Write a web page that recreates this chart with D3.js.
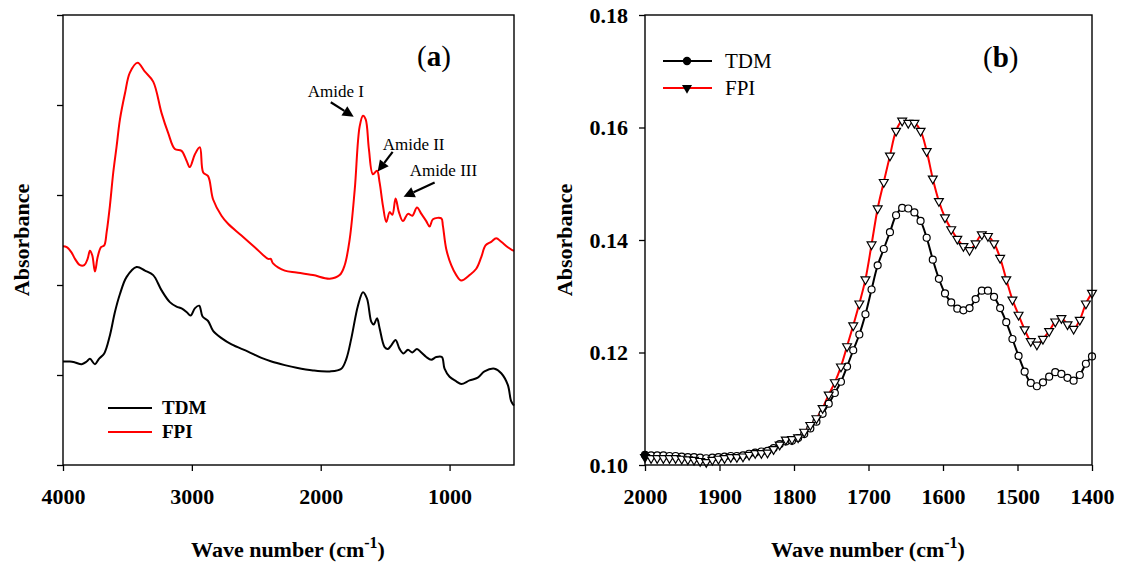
<!DOCTYPE html>
<html>
<head>
<meta charset="utf-8">
<script src="https://cdn.jsdelivr.net/npm/d3@7"></script>
<style>
  body { margin: 0; background: #fff; }
  svg text { font-family: "Liberation Serif", "Times New Roman", serif; fill: #000; }
</style>
</head>
<body>
<div id="chart"></div>
<script>
// ---- panel (a): full FTIR spectra, arbitrary absorbance units ----
const waveA_FPI = [4000,3971,3933,3907,3868,3835,3809,3791,3773,3752,3731,3705,3680,3661,3636,3610,3584,3558,3519,3481,
  3421,3364,3300,3235,3184,3132,3080,3041,3016,2977,2938,2912,2874,2835,2770,2719,2615,2512,2408,2388,
  2370,2279,2188,2060,1930,1853,1814,1775,1736,1698,1672,1651,1626,1595,1563,1543,1517,1491,1465,1444,
  1419,1393,1362,1323,1289,1253,1219,1181,1155,1129,1064,1052,1026,987,948,909,845,793,754,721,
  677,638,599,548,517,500];
const absA_FPI = [2.43,2.42,2.36,2.29,2.22,2.22,2.29,2.38,2.33,2.15,2.31,2.42,2.44,2.59,2.88,3.25,3.54,3.84,4.13,4.36,
  4.47,4.37,4.26,3.91,3.69,3.51,3.49,3.38,3.31,3.45,3.53,3.25,3.21,2.95,2.77,2.68,2.55,2.42,2.29,2.29,
  2.24,2.16,2.14,2.11,2.07,2.11,2.22,2.51,3.06,3.76,3.88,3.84,3.51,3.23,3.27,3.14,2.88,2.70,2.81,2.78,
  2.96,2.81,2.71,2.79,2.77,2.86,2.79,2.71,2.65,2.73,2.74,2.66,2.40,2.22,2.11,2.05,2.11,2.18,2.31,2.44,
  2.48,2.52,2.48,2.42,2.39,2.38];

const waveA_TDM = [4000,3946,3907,3855,3816,3791,3752,3721,3680,3636,3597,3558,3506,3429,3364,3300,3235,3171,3119,3080,
  3041,3010,2977,2943,2917,2874,2835,2770,2692,2564,2460,2382,2279,2188,2060,1930,1840,1801,1762,1711,
  1672,1641,1607,1589,1563,1543,1504,1478,1452,1419,1388,1357,1323,1289,1253,1219,1181,1142,1103,1060,
  1039,1000,948,909,845,781,729,651,599,548,522,500];
const absA_TDM = [1.15,1.15,1.14,1.12,1.15,1.18,1.12,1.18,1.24,1.44,1.70,1.90,2.09,2.20,2.16,2.11,1.94,1.81,1.76,1.74,
  1.70,1.66,1.74,1.77,1.65,1.60,1.49,1.41,1.34,1.26,1.19,1.15,1.11,1.08,1.05,1.04,1.07,1.18,1.41,1.77,
  1.92,1.85,1.59,1.56,1.63,1.52,1.31,1.29,1.33,1.39,1.29,1.24,1.28,1.25,1.29,1.25,1.20,1.17,1.20,1.20,
  1.07,0.98,0.93,0.90,0.94,0.97,1.04,1.07,1.02,0.89,0.71,0.66];

const xTicksA = [4000, 3000, 2000, 1000];
const yTicksA = [0, 1, 2, 3, 4, 5];

// amide band annotations (wave number, absorbance)
const amideLabels = ["Amide I", "Amide II", "Amide III"];
const amideTextAt = [[2101, 4.09], [1519, 3.50], [1310, 3.21]];
const amideArrowFrom = [[1922, 4.03], [1442, 3.48], [1116, 3.14]];
const amideArrowTo = [[1744, 3.87], [1558, 3.26], [1357, 2.98]];

// ---- panel (b): amide I / II region ----
const waveB = [2000.0,1991.8,1983.6,1975.3,1967.1,1958.9,1950.7,1942.5,1934.2,1926.0,
  1917.8,1909.6,1901.4,1893.2,1884.9,1876.7,1868.5,1860.3,1852.1,1843.8,
  1835.6,1827.4,1819.2,1811.0,1802.7,1794.5,1786.3,1778.1,1769.9,1761.6,
  1753.4,1745.2,1737.0,1728.8,1720.5,1712.3,1704.1,1695.9,1687.7,1679.5,
  1671.2,1663.0,1654.8,1646.6,1638.4,1630.1,1621.9,1613.7,1605.5,1597.3,
  1589.0,1580.8,1572.6,1564.4,1556.2,1547.9,1539.7,1531.5,1523.3,1515.1,
  1506.8,1498.6,1490.4,1482.2,1474.0,1465.8,1457.5,1449.3,1441.1,1432.9,
  1424.7,1416.4,1408.2,1400.0];
const absB_TDM = [0.1018,0.1017,0.1017,0.1017,0.1016,0.1016,0.1015,0.1014,0.1014,0.1013,
  0.1012,0.1013,0.1014,0.1015,0.1016,0.1016,0.1017,0.1020,0.1022,0.1024,
  0.1025,0.1030,0.1037,0.1042,0.1043,0.1048,0.1055,0.1065,0.1077,0.1091,
  0.1109,0.1128,0.1148,0.1175,0.1204,0.1232,0.1268,0.1312,0.1355,0.1384,
  0.1414,0.1444,0.1457,0.1456,0.1449,0.1434,0.1404,0.1365,0.1331,0.1305,
  0.1289,0.1278,0.1275,0.1279,0.1295,0.1310,0.1310,0.1299,0.1279,0.1254,
  0.1224,0.1194,0.1166,0.1146,0.1140,0.1147,0.1157,0.1165,0.1162,0.1155,
  0.1150,0.1160,0.1180,0.1193];
const absB_FPI = [0.1014,0.1012,0.1012,0.1012,0.1012,0.1012,0.1011,0.1010,0.1009,0.1007,
  0.1005,0.1009,0.1011,0.1012,0.1014,0.1014,0.1015,0.1018,0.1021,0.1021,
  0.1022,0.1028,0.1036,0.1045,0.1046,0.1049,0.1059,0.1071,0.1083,0.1101,
  0.1125,0.1147,0.1175,0.1211,0.1248,0.1287,0.1330,0.1392,0.1456,0.1503,
  0.1550,0.1594,0.1612,0.1608,0.1608,0.1594,0.1558,0.1509,0.1469,0.1440,
  0.1419,0.1402,0.1389,0.1382,0.1394,0.1410,0.1407,0.1394,0.1368,0.1330,
  0.1294,0.1267,0.1241,0.1220,0.1214,0.1224,0.1238,0.1255,0.1261,0.1250,
  0.1242,0.1258,0.1287,0.1306];

const xTicksB = [2000, 1900, 1800, 1700, 1600, 1500, 1400];
const yTicksB = [0.10, 0.12, 0.14, 0.16, 0.18];

const seriesNames = ["TDM", "FPI"];
const seriesColors = ["#000000", "#ff0000"];

const W = 1123, H = 563;
const svg = d3.select("#chart").append("svg")
  .attr("width", W).attr("height", H)
  .style("display", "block");
svg.append("rect").attr("width", W).attr("height", H).attr("fill", "#fff");

function styleAxis(g) {
  g.select(".domain").remove();
  g.selectAll(".tick line").attr("stroke", "#000").attr("stroke-width", 1.3);
  g.selectAll("text").style("font-size", "22px").style("font-weight", "bold");
}

function frame(x0, x1, y0, y1) {
  svg.append("rect")
    .attr("x", x0).attr("y", y0)
    .attr("width", x1 - x0).attr("height", y1 - y0)
    .attr("fill", "none").attr("stroke", "#000").attr("stroke-width", 1.4);
}

function xTitle(cx) {
  const t = svg.append("text")
    .attr("x", cx).attr("y", 557)
    .attr("text-anchor", "middle")
    .style("font-size", "22px").style("font-weight", "bold");
  t.append("tspan").text("Wave number (cm");
  t.append("tspan").attr("dy", -9).style("font-size", "16px").text("-1");
  t.append("tspan").attr("dy", 9).text(")");
}

function yTitle(x, cy) {
  svg.append("text")
    .attr("transform", `translate(${x},${cy}) rotate(-90)`)
    .attr("text-anchor", "middle")
    .style("font-size", "22px").style("font-weight", "bold")
    .text("Absorbance");
}

function panelTag(x, y, letter) {
  const t = svg.append("text").attr("x", x).attr("y", y).style("font-size", "29px");
  t.append("tspan").text("(");
  t.append("tspan").style("font-weight", "bold").text(letter);
  t.append("tspan").text(")");
}

// -------------------------------------------------------
// PANEL (a)
// -------------------------------------------------------
const xA = d3.scaleLinear().domain([4000, 500]).range([63, 514]);
const yA = d3.scaleLinear().domain([0, 5]).range([465, 15]);

const lineA = d3.line()
  .x(d => xA(d[0]))
  .y(d => yA(d[1]))
  .curve(d3.curveCatmullRom.alpha(0.5));

svg.append("path")
  .datum(d3.zip(waveA_TDM, absA_TDM))
  .attr("d", lineA)
  .attr("fill", "none").attr("stroke", seriesColors[0]).attr("stroke-width", 2);

svg.append("path")
  .datum(d3.zip(waveA_FPI, absA_FPI))
  .attr("d", lineA)
  .attr("fill", "none").attr("stroke", seriesColors[1]).attr("stroke-width", 2);

svg.append("g")
  .attr("transform", "translate(0,465)")
  .call(d3.axisBottom(xA).tickValues(xTicksA).tickSize(6).tickSizeOuter(0).tickFormat(d3.format("d")))
  .call(styleAxis)
  .call(g => g.selectAll("text").attr("y", 39).attr("dy", null));

svg.append("g")
  .attr("transform", "translate(63,0)")
  .call(d3.axisLeft(yA).tickValues(yTicksA).tickSize(6).tickSizeOuter(0).tickFormat(""))
  .call(styleAxis);

frame(63, 514, 15, 465);

// amide arrows
amideLabels.forEach((lab, i) => {
  const [x1, y1] = [xA(amideArrowFrom[i][0]), yA(amideArrowFrom[i][1])];
  const [x2, y2] = [xA(amideArrowTo[i][0]), yA(amideArrowTo[i][1])];
  const ang = Math.atan2(y2 - y1, x2 - x1);
  const len = 11, hw = 5.5;
  const bx = x2 - len * Math.cos(ang), by = y2 - len * Math.sin(ang);
  svg.append("line")
    .attr("x1", x1).attr("y1", y1).attr("x2", bx).attr("y2", by)
    .attr("stroke", "#000").attr("stroke-width", 2.2);
  svg.append("polygon")
    .attr("points", [
      [x2, y2],
      [bx + hw * Math.sin(ang), by - hw * Math.cos(ang)],
      [bx - hw * Math.sin(ang), by + hw * Math.cos(ang)]
    ].map(p => p.join(",")).join(" "))
    .attr("fill", "#000");
  svg.append("text")
    .attr("x", xA(amideTextAt[i][0])).attr("y", yA(amideTextAt[i][1]))
    .style("font-size", "17px")
    .text(lab);
});

// legend (a)
seriesNames.forEach((name, i) => {
  const y = 408 + i * 24;
  svg.append("line").attr("x1", 108).attr("x2", 152).attr("y1", y).attr("y2", y)
    .attr("stroke", seriesColors[i]).attr("stroke-width", 2);
  svg.append("text").attr("x", 162).attr("y", y + 6)
    .style("font-size", "19px").style("font-weight", "bold").text(name);
});

panelTag(417, 66, "a");
xTitle(288);
yTitle(29, 240);

// -------------------------------------------------------
// PANEL (b)
// -------------------------------------------------------
const xB = d3.scaleLinear().domain([2000, 1400]).range([645, 1092]);
const yB = d3.scaleLinear().domain([0.10, 0.18]).range([465, 15]);

const lineB = d3.line()
  .x(d => xB(d[0]))
  .y(d => yB(d[1]))
  .curve(d3.curveCatmullRom.alpha(0.5));

const tdmB = d3.zip(waveB, absB_TDM);
const fpiB = d3.zip(waveB, absB_FPI);

svg.append("path").datum(tdmB).attr("d", lineB)
  .attr("fill", "none").attr("stroke", seriesColors[0]).attr("stroke-width", 2);
svg.append("path").datum(fpiB).attr("d", lineB)
  .attr("fill", "none").attr("stroke", seriesColors[1]).attr("stroke-width", 2);

svg.append("g").selectAll("circle")
  .data(tdmB).enter().append("circle")
  .attr("cx", d => xB(d[0])).attr("cy", d => yB(d[1])).attr("r", 3.5)
  .attr("fill", (d, i) => i === 0 ? "#000" : "#fff")
  .attr("stroke", "#000").attr("stroke-width", 1.2);

const tri = d3.symbol().type(d3.symbolTriangle).size(34);
svg.append("g").selectAll("path")
  .data(fpiB).enter().append("path")
  .attr("d", tri)
  .attr("transform", d => `translate(${xB(d[0])},${yB(d[1])}) rotate(180)`)
  .attr("fill", (d, i) => i === 0 ? "#000" : "#fff")
  .attr("stroke", "#000").attr("stroke-width", 1.2);

svg.append("g")
  .attr("transform", "translate(0,465)")
  .call(d3.axisBottom(xB).tickValues(xTicksB).tickSize(6).tickSizeOuter(0).tickFormat(d3.format("d")))
  .call(styleAxis)
  .call(g => g.selectAll("text").attr("y", 39).attr("dy", null));

svg.append("g")
  .attr("transform", "translate(645,0)")
  .call(d3.axisLeft(yB).tickValues(yTicksB).tickSize(6).tickSizeOuter(0).tickFormat(d3.format(".2f")))
  .call(styleAxis)
  .call(g => g.selectAll("text").attr("x", -17));

frame(645, 1092, 15, 465);

// legend (b)
seriesNames.forEach((name, i) => {
  const y = 61 + i * 27;
  svg.append("line").attr("x1", 663).attr("x2", 712).attr("y1", y).attr("y2", y)
    .attr("stroke", seriesColors[i]).attr("stroke-width", 2);
  if (i === 0) {
    svg.append("circle").attr("cx", 687).attr("cy", y).attr("r", 4.2).attr("fill", "#000");
  } else {
    svg.append("path").attr("d", d3.symbol().type(d3.symbolTriangle).size(44))
      .attr("transform", `translate(687,${y}) rotate(180)`).attr("fill", "#000");
  }
  svg.append("text").attr("x", 725).attr("y", y + 7)
    .style("font-size", "21px").text(name);
});

panelTag(983, 67, "b");
xTitle(868);
yTitle(572, 240);
</script>
</body>
</html>
